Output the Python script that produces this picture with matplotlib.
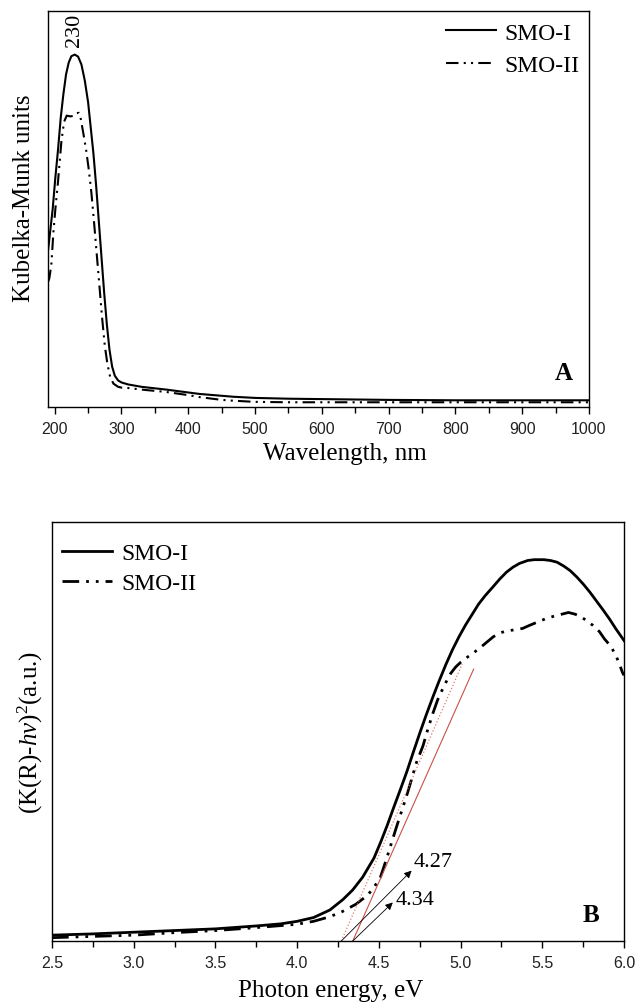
import matplotlib
matplotlib.use("Agg")
import matplotlib.pyplot as plt
from matplotlib.ticker import MultipleLocator

# ---- panel A : Kubelka-Munk spectra (y in % of axis height) ----
wl_smo1 = [190, 193, 197, 201, 205, 209, 213, 217, 221, 225, 230, 235, 240, 245,
           250, 254, 258, 262, 266, 270, 274, 278, 282, 286, 290, 295, 300, 310,
           330, 367, 417, 467, 500, 550, 600, 700, 800, 900, 1000]
km_smo1 = [39.5, 44, 50, 58, 65, 73, 79, 84, 87, 88.6, 89, 88.5, 86.5, 82.5,
           77, 70.5, 64, 56, 47, 38, 29, 21, 14.5, 10.2, 7.9, 6.7, 6.2, 5.7,
           5.1, 4.4, 3.3, 2.6, 2.3, 2.1, 2.0, 1.8, 1.7, 1.7, 1.7]

wl_smo2 = [190, 192, 195, 198, 201, 205, 210, 214, 218, 223, 228, 233, 236, 239,
           243, 247, 251, 255, 259, 263, 267, 271, 275, 279, 283, 288, 295, 300,
           310, 330, 367, 400, 417, 450, 467, 500, 550, 600, 700, 800, 900, 1000]
km_smo2 = [31.6, 32.5, 36, 44, 50, 57, 67, 72, 73.6, 73.4, 73.5, 74.2, 74.3, 72.8,
           69, 65, 60, 54, 46.5, 38.5, 30.5, 22.5, 15.5, 10.8, 7.6, 5.9, 5.1, 4.9,
           4.8, 4.4, 3.8, 3.0, 2.5, 1.8, 1.6, 1.3, 1.2, 1.2, 1.2, 1.2, 1.2, 1.2]

peak_nm = 230

# ---- panel B : Tauc plot ----
ev_smo1 = [2.5, 2.75, 3.0, 3.25, 3.5, 3.75, 3.9, 4.0, 4.1, 4.2, 4.28, 4.34, 4.40,
           4.47, 4.51, 4.55, 4.59, 4.63, 4.67, 4.71, 4.75, 4.79, 4.83, 4.87, 4.91,
           4.95, 4.99, 5.03, 5.07, 5.11, 5.15, 5.20, 5.24, 5.28, 5.32, 5.36, 5.41,
           5.45, 5.51, 5.55, 5.59, 5.63, 5.67, 5.71, 5.75, 5.79, 5.83, 5.87, 5.91,
           5.95, 6.0]
t_smo1 = [1.4, 1.7, 2.1, 2.5, 2.9, 3.6, 4.1, 4.7, 5.6, 7.4, 9.9, 12.2, 15.2,
          19.8, 23.5, 27.5, 31.8, 36.0, 40.3, 45.0, 49.6, 54.0, 58.2, 62.2, 66.0,
          69.5, 72.6, 75.4, 77.9, 80.4, 82.4, 84.6, 86.4, 88.0, 89.2, 90.1, 90.8,
          91.0, 91.0, 90.8, 90.4, 89.5, 88.4, 86.9, 85.2, 83.3, 81.2, 79.1, 76.9,
          74.5, 71.7]

ev_smo2 = [2.5, 2.75, 3.0, 3.25, 3.5, 3.75, 4.0, 4.1, 4.2, 4.28, 4.36, 4.43,
           4.47, 4.51, 4.55, 4.58, 4.61, 4.64, 4.67, 4.70, 4.73, 4.77, 4.80, 4.83,
           4.86, 4.90, 4.94, 4.97, 5.0, 5.04, 5.08, 5.12, 5.16, 5.20, 5.24, 5.28,
           5.32, 5.38, 5.42, 5.47, 5.52, 5.57, 5.62, 5.66, 5.70, 5.73, 5.77, 5.81,
           5.85, 5.88, 5.92, 5.95, 5.97, 5.99, 6.0]
t_smo2 = [0.8, 1.1, 1.4, 2.0, 2.5, 3.2, 4.0, 4.7, 5.8, 7.1, 8.8, 10.9,
          12.8, 15.3, 20.0, 23.8, 27.5, 31.1, 34.7, 38.6, 42.6, 46.6, 50.6, 54.3,
          57.6, 61.0, 63.9, 65.4, 66.5, 67.7, 68.8, 70.0, 71.3, 72.6, 73.5, 74.0,
          74.2, 74.6, 75.3, 76.1, 76.9, 77.5, 78.0, 78.4, 78.0, 77.5, 76.5, 75.3,
          73.8, 72.1, 70.3, 68.1, 66.3, 64.1, 63.4]

# tangent fits (x, y) and band gap values
fit_smo1_x = [4.34, 5.08]
fit_smo1_y = [0, 64.9]
fit_smo2_x = [4.27, 5.01]
fit_smo2_y = [0, 66.1]
gaps = [4.27, 4.34]
arrow_tips = [(4.70, 16.8), (4.585, 9.2)]
gap_text_pos = [(4.71, 18.9), (4.60, 10.0)]

plt.rcParams['font.family'] = ['Liberation Serif', 'DejaVu Serif']
plt.rcParams['mathtext.fontset'] = 'custom'
plt.rcParams['mathtext.rm'] = 'Liberation Serif'
plt.rcParams['mathtext.it'] = 'Liberation Serif:italic'

dashdotdot = (0, (6, 2.5, 1, 2.5, 1, 2.5))

fig = plt.figure(figsize=(6.36, 10.03), dpi=100)


def style_axes(ax):
    for s in ax.spines.values():
        s.set_linewidth(1.0)
    ax.set_yticks([])
    ax.tick_params(axis='x', which='both', direction='out', width=1.0,
                   labelsize=11.5, pad=5, labelcolor='#222222')
    ax.tick_params(axis='x', which='major', length=5)
    ax.tick_params(axis='x', which='minor', length=4)
    for lab in ax.get_xticklabels():
        lab.set_family('Liberation Sans')


# ---------------- A ----------------
axA = fig.add_axes([0.0755, 0.5932, 0.8506, 0.3948])
axA.plot(wl_smo1, km_smo1, color='black', lw=1.5, label='SMO-I')
axA.plot(wl_smo2, km_smo2, color='black', lw=1.5, ls=dashdotdot, label='SMO-II')
axA.set_xlim(190, 1000)
axA.set_ylim(0, 100)
axA.xaxis.set_major_locator(MultipleLocator(100))
axA.xaxis.set_minor_locator(MultipleLocator(50))
style_axes(axA)
axA.text(peak_nm, 95.3, str(peak_nm), rotation=90, ha='center', va='center', fontsize=16)
axA.text(0.954, 0.088, 'A', transform=axA.transAxes, ha='center', va='center',
         fontsize=18, fontweight='bold')
axA.set_xlabel('Wavelength, nm', fontsize=18)
axA.xaxis.set_label_coords(0.549, -0.088)
axA.set_ylabel('Kubelka-Munk units', fontsize=18, va='center')
axA.yaxis.set_label_coords(-0.044, 0.53)
axA.legend(loc='upper left', bbox_to_anchor=(0.736, 0.972), frameon=False,
           fontsize=17, handlelength=2.1, handletextpad=0.35, labelspacing=0.45,
           borderpad=0, borderaxespad=0)

# ---------------- B ----------------
axB = fig.add_axes([0.0818, 0.0608, 0.8994, 0.4178])
axB.plot(ev_smo1, t_smo1, color='black', lw=2.0, label='SMO-I')
axB.plot(ev_smo2, t_smo2, color='black', lw=2.0, ls=dashdotdot, label='SMO-II')
axB.plot(fit_smo1_x, fit_smo1_y, color='#c9504a', lw=0.8)
axB.plot(fit_smo2_x, fit_smo2_y, color='#e07a74', lw=0.9, ls=':')
for g, tip, tp in zip(gaps, arrow_tips, gap_text_pos):
    axB.annotate('', xy=tip, xytext=(g, 0),
                 arrowprops=dict(arrowstyle='-|>', color='black', lw=0.6,
                                 mutation_scale=11, shrinkA=0, shrinkB=0))
    axB.text(tp[0], tp[1], f'{g:.2f}', ha='left', va='center', fontsize=16)
axB.set_xlim(2.5, 6.0)
axB.set_ylim(0, 100)
axB.xaxis.set_major_locator(MultipleLocator(0.5))
axB.xaxis.set_minor_locator(MultipleLocator(0.25))
style_axes(axB)
axB.text(0.943, 0.064, 'B', transform=axB.transAxes, ha='center', va='center',
         fontsize=18, fontweight='bold')
axB.set_xlabel('Photon energy, eV', fontsize=18)
axB.xaxis.set_label_coords(0.487, -0.09)
axB.set_ylabel(r'(K(R)-$\mathit{hv}$)$^{2}$(a.u.)', fontsize=18, va='center')
axB.yaxis.set_label_coords(-0.037, 0.50)
axB.legend(loc='upper left', bbox_to_anchor=(0.0175, 0.95), frameon=False,
           fontsize=17, handlelength=2.1, handletextpad=0.4, labelspacing=0.33,
           borderpad=0, borderaxespad=0)

fig.savefig('out.png', dpi=100)
